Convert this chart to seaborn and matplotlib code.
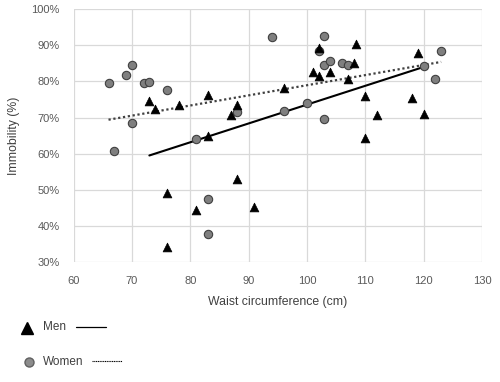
import matplotlib
matplotlib.use("Agg")
import matplotlib.pyplot as plt
import seaborn as sns
import pandas as pd
from matplotlib.lines import Line2D

# Data
men_waist = [73, 74, 78, 83, 83, 87, 88, 76, 81, 88, 91, 76,
             96, 102, 101, 102, 104, 108.4, 108, 107, 110, 112, 110, 118, 119, 120]
men_immob = [74.7, 72.5, 73.5, 76.2, 65.0, 70.6, 73.5, 49.0, 44.4, 53.1, 45.2, 34.2,
             78.3, 89.3, 82.6, 81.4, 82.6, 90.3, 85.0, 80.8, 75.9, 70.7, 64.3, 75.4, 87.9, 70.9]
women_waist = [66, 67, 69, 70, 70, 72, 73, 76, 81, 83, 83, 88, 94,
               103, 102, 103, 104, 106, 107, 96, 100, 103, 120, 122, 123]
women_immob = [79.5, 60.8, 81.9, 84.5, 68.4, 79.6, 79.9, 77.5, 64.2, 47.4, 37.7, 71.4, 92.3,
               92.6, 88.4, 84.5, 85.6, 85.0, 84.5, 71.7, 74.1, 69.6, 84.3, 80.7, 88.3]
men_trend_x = [73, 120]
men_trend_y = [59.5, 84.0]
women_trend_x = [66, 123]
women_trend_y = [69.4, 85.4]
x_ticks = [60, 70, 80, 90, 100, 110, 120, 130]
y_ticks = [30, 40, 50, 60, 70, 80, 90, 100]

sns.set_theme(style="white")
plt.rcParams['font.family'] = ['Liberation Sans', 'DejaVu Sans']

fig = plt.figure(figsize=(5.0, 3.82), dpi=100)
ax = fig.add_axes([0.147, 0.314, 0.817, 0.662])

men = pd.DataFrame({"x": men_waist, "y": men_immob})
women = pd.DataFrame({"x": women_waist, "y": women_immob})

sns.lineplot(x=women_trend_x, y=women_trend_y, ax=ax, color="#404040",
             linestyle=(0, (1, 1.2)), linewidth=1.6, zorder=2)
sns.lineplot(x=men_trend_x, y=men_trend_y, ax=ax, color="black",
             linewidth=1.5, zorder=2)
sns.scatterplot(data=women, x="x", y="y", ax=ax, marker="o", s=36,
                color="#7f7f7f", edgecolor="#404040", linewidth=0.8, zorder=3)
sns.scatterplot(data=men, x="x", y="y", ax=ax, marker="^", s=40,
                color="black", edgecolor="black", linewidth=0.5, zorder=4)

ax.set_xlim(60, 130)
ax.set_ylim(30, 100)
ax.set_xticks(x_ticks)
ax.set_yticks(y_ticks)
ax.set_yticklabels([f"{v}%" for v in y_ticks])
ax.grid(True, color="#d9d9d9", linewidth=0.9)
ax.set_axisbelow(True)
for s in ax.spines.values():
    s.set_visible(False)
ax.tick_params(axis="both", labelsize=8, colors="#595959", length=0)
ax.tick_params(axis="x", pad=10)
ax.tick_params(axis="y", pad=10)
ax.set_xlabel("Waist circumference (cm)", fontsize=8.8, color="#404040", labelpad=7)
ax.set_ylabel("Immobility (%)", fontsize=8.8, color="#404040", labelpad=8)

# Legend (manual, below the chart)
fig.add_artist(Line2D([0.054], [1 - 328 / 382], marker="^", color="black",
                      markersize=8, linestyle="none", transform=fig.transFigure))
fig.text(0.086, 1 - 327 / 382, "Men", fontsize=8.5, color="#404040", va="center")
fig.add_artist(Line2D([0.152, 0.212], [1 - 327 / 382] * 2, color="black",
                      linewidth=0.9, transform=fig.transFigure))
fig.add_artist(Line2D([0.058], [1 - 362 / 382], marker="o", color="#8c8c8c",
                      markeredgecolor="#606060", markersize=6.5, linestyle="none",
                      transform=fig.transFigure))
fig.text(0.086, 1 - 362 / 382, "Women", fontsize=8.5, color="#404040", va="center")
fig.add_artist(Line2D([0.184, 0.244], [1 - 361 / 382] * 2, color="black",
                      linewidth=0.8, linestyle=(0, (1, 0.6)), transform=fig.transFigure))

fig.savefig("out.png", dpi=100)
